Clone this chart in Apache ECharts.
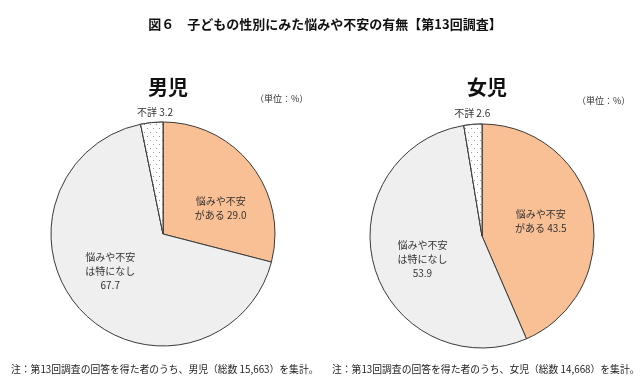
<!DOCTYPE html>
<html><head><meta charset="utf-8">
<script src="https://cdn.jsdelivr.net/npm/echarts@6/dist/echarts.min.js"></script>
<style>html,body{margin:0;padding:0;background:#fff}#c{width:640px;height:387px}</style>
</head><body><div id="c"></div>
<script>
const mainTitle = '図６　子どもの性別にみた悩みや不安の有無【第13回調査】';
const groups = ['男児', '女児'];
const categories = ['悩みや不安がある', '悩みや不安は特になし', '不詳'];
const boys = [29.0, 67.7, 3.2];
const girls = [43.5, 53.9, 2.6];
const totals = ['15,663', '14,668'];
const unitText = '（単位：%）';

const FONT = '"Noto Sans CJK JP", "Noto Sans", sans-serif';
const colors = ['#F9BF95', '#EFEFEF', '#FFFFFF'];

function labelText(i, v) {
  const s = v.toFixed(1);
  if (i === 0) return '悩みや不安\nがある ' + s;
  if (i === 1) return '悩みや不安\nは特になし\n' + s;
  return '不詳 ' + s;
}

const centers = [[163, 234], [482, 236]];
const offsets = [
  [[11, 10], [-10, -3], [-2, -63]],
  [[1, -3], [-3, 7], [-5, -64]]
];

function makeSeries(k, values) {
  return {
    type: 'pie',
    center: centers[k],
    radius: [0, 112],
    startAngle: 90,
    clockwise: true,
    animation: false,
    silent: true,
    itemStyle: { borderColor: '#3a3a3a', borderWidth: 1 },
    label: {
      show: true, position: 'inside', color: '#333', fontFamily: FONT,
      fontSize: 10, lineHeight: 14, align: 'center',
      formatter: p => labelText(p.dataIndex, p.value)
    },
    labelLine: { show: false },
    labelLayout: p => ({ dx: offsets[k][p.dataIndex][0], dy: offsets[k][p.dataIndex][1] }),
    data: values.map((v, i) => ({
      name: categories[i], value: v,
      itemStyle: i === 2 ? {
        color: colors[i],
        decal: { symbol: 'rect', symbolSize: 1, color: '#999999', backgroundColor: '#ffffff',
                 dashArrayX: [[1, 5], [0, 3, 1, 2]], dashArrayY: [1, 3] }
      } : { color: colors[i] }
    }))
  };
}

const chart = echarts.init(document.getElementById('c'), null, { renderer: 'canvas' });
chart.setOption({
  backgroundColor: '#fff',
  title: [
    { text: mainTitle, left: 320, top: 13, textAlign: 'center',
      textStyle: { fontFamily: FONT, fontSize: 13, fontWeight: 'bold', color: '#111' } },
    { text: groups[0], left: 163, top: 72, textAlign: 'center',
      textStyle: { fontFamily: FONT, fontSize: 20, fontWeight: 'bold', color: '#111' } },
    { text: groups[1], left: 482, top: 72, textAlign: 'center',
      textStyle: { fontFamily: FONT, fontSize: 20, fontWeight: 'bold', color: '#111' } },
    { text: unitText, left: 250, top: 89,
      textStyle: { fontFamily: FONT, fontSize: 9, fontWeight: 'normal', color: '#333' } },
    { text: unitText, left: 572, top: 91,
      textStyle: { fontFamily: FONT, fontSize: 9, fontWeight: 'normal', color: '#333' } },
    { text: '注：第13回調査の回答を得た者のうち、' + groups[0] + '（総数 ' + totals[0] + '）を集計。', left: 6, top: 359,
      textStyle: { fontFamily: FONT, fontSize: 9.8, fontWeight: 'normal', color: '#222' } },
    { text: '注：第13回調査の回答を得た者のうち、' + groups[1] + '（総数 ' + totals[1] + '）を集計。', left: 327, top: 359,
      textStyle: { fontFamily: FONT, fontSize: 9.8, fontWeight: 'normal', color: '#222' } }
  ],
  series: [makeSeries(0, boys), makeSeries(1, girls)]
});
</script>
</body></html>
